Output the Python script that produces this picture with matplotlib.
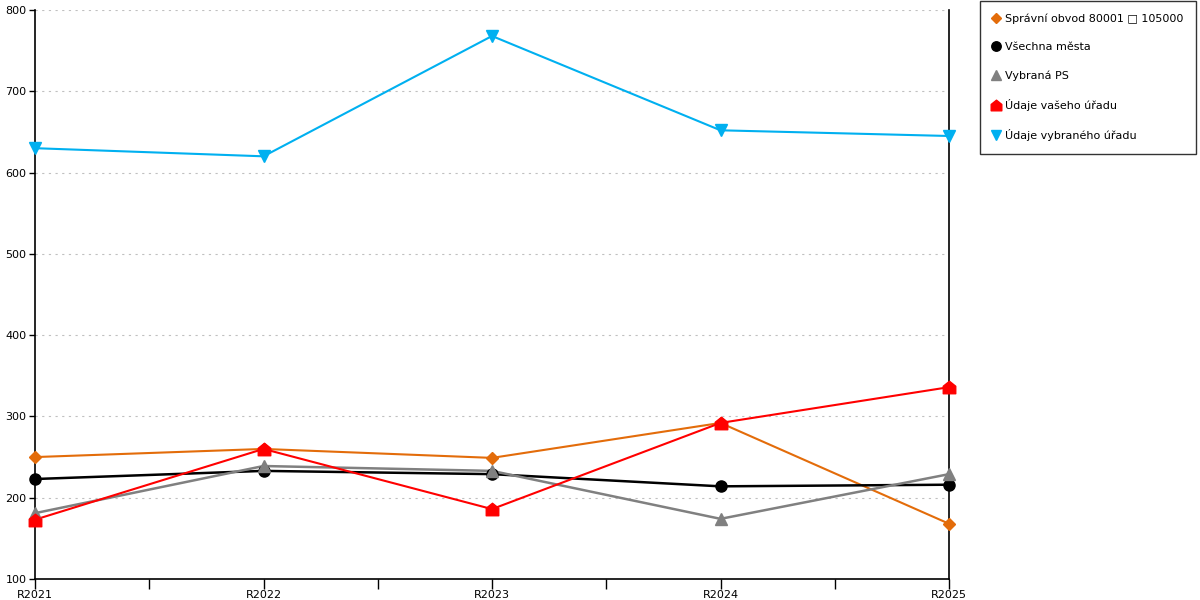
import numpy as np
import matplotlib.pyplot as plt
from matplotlib.path import Path

years = ["R2021", "R2022", "R2023", "R2024", "R2025"]

spravni_obvod = [250, 260, 249, 292, 168]
vsechna_mesta = [223, 233, 229, 214, 216]
vybrana_ps = [181, 239, 233, 174, 229]
udaje_vaseho = [173, 260, 186, 292, 336]
udaje_vybraneho = [630, 620, 768, 652, 645]

labels = ["Správní obvod 80001 □ 105000", "Všechna města", "Vybraná PS",
          "Údaje vašeho úřadu", "Údaje vybraného úřadu"]

# house shaped marker for the red series
house = Path([(-1, -1), (1, -1), (1, 0.2), (0, 1), (-1, 0.2), (-1, -1)],
             [Path.MOVETO] + [Path.LINETO] * 4 + [Path.CLOSEPOLY])

series = [
    (spravni_obvod, "#e36c0a", "D", 6, 1.5),
    (vsechna_mesta, "#000000", "o", 8, 1.8),
    (vybrana_ps, "#808080", "^", 8, 1.8),
    (udaje_vaseho, "#ff0000", house, 9, 1.5),
    (udaje_vybraneho, "#00b0f0", "v", 9, 1.5),
]

fig = plt.figure(figsize=(12, 6), dpi=100)
ax = fig.add_axes([35 / 1200, 21 / 600, 914 / 1200, 569 / 600])

x = np.arange(len(years))
handles = []
for (vals, col, mk, ms, lw), lab in zip(series, labels):
    ax.plot(x, vals, color=col, lw=lw, zorder=3, clip_on=False)
    ax.plot(x, vals, color=col, marker=mk, ms=ms, ls="none", zorder=4,
            clip_on=False)
    handles.append(plt.Line2D([], [], color=col, marker=mk, ls="none",
                              ms=ms * 0.85, label=lab))

ax.set_xlim(0, len(years) - 1)
ax.set_ylim(100, 800)
ax.set_yticks(range(100, 801, 100))
ax.set_xticks(x)
ax.set_xticklabels(years)
ax.set_xticks(x[:-1] + 0.5, minor=True)
ax.tick_params(axis="x", which="both", direction="out", length=7, width=1,
               labelsize=8, pad=1)
ax.tick_params(axis="y", direction="out", length=4, width=1, labelsize=8, pad=2)
ax.yaxis.grid(True, ls=(0, (2, 4)), color="#c0c0c0", lw=0.8)
ax.set_axisbelow(True)

ax.spines["top"].set_visible(False)
for s in ["left", "right", "bottom"]:
    ax.spines[s].set_linewidth(1.2)
    ax.spines[s].set_color("black")

leg = fig.legend(handles=handles, loc="upper left",
                 bbox_to_anchor=(980 / 1200, 1 - 1 / 600), fontsize=8,
                 frameon=True, fancybox=False, edgecolor="black",
                 handlelength=0.6, handletextpad=0.5, labelspacing=1.62,
                 borderpad=1.15, borderaxespad=0)
leg.get_frame().set_linewidth(1.0)

fig.savefig("out.png", dpi=100)
